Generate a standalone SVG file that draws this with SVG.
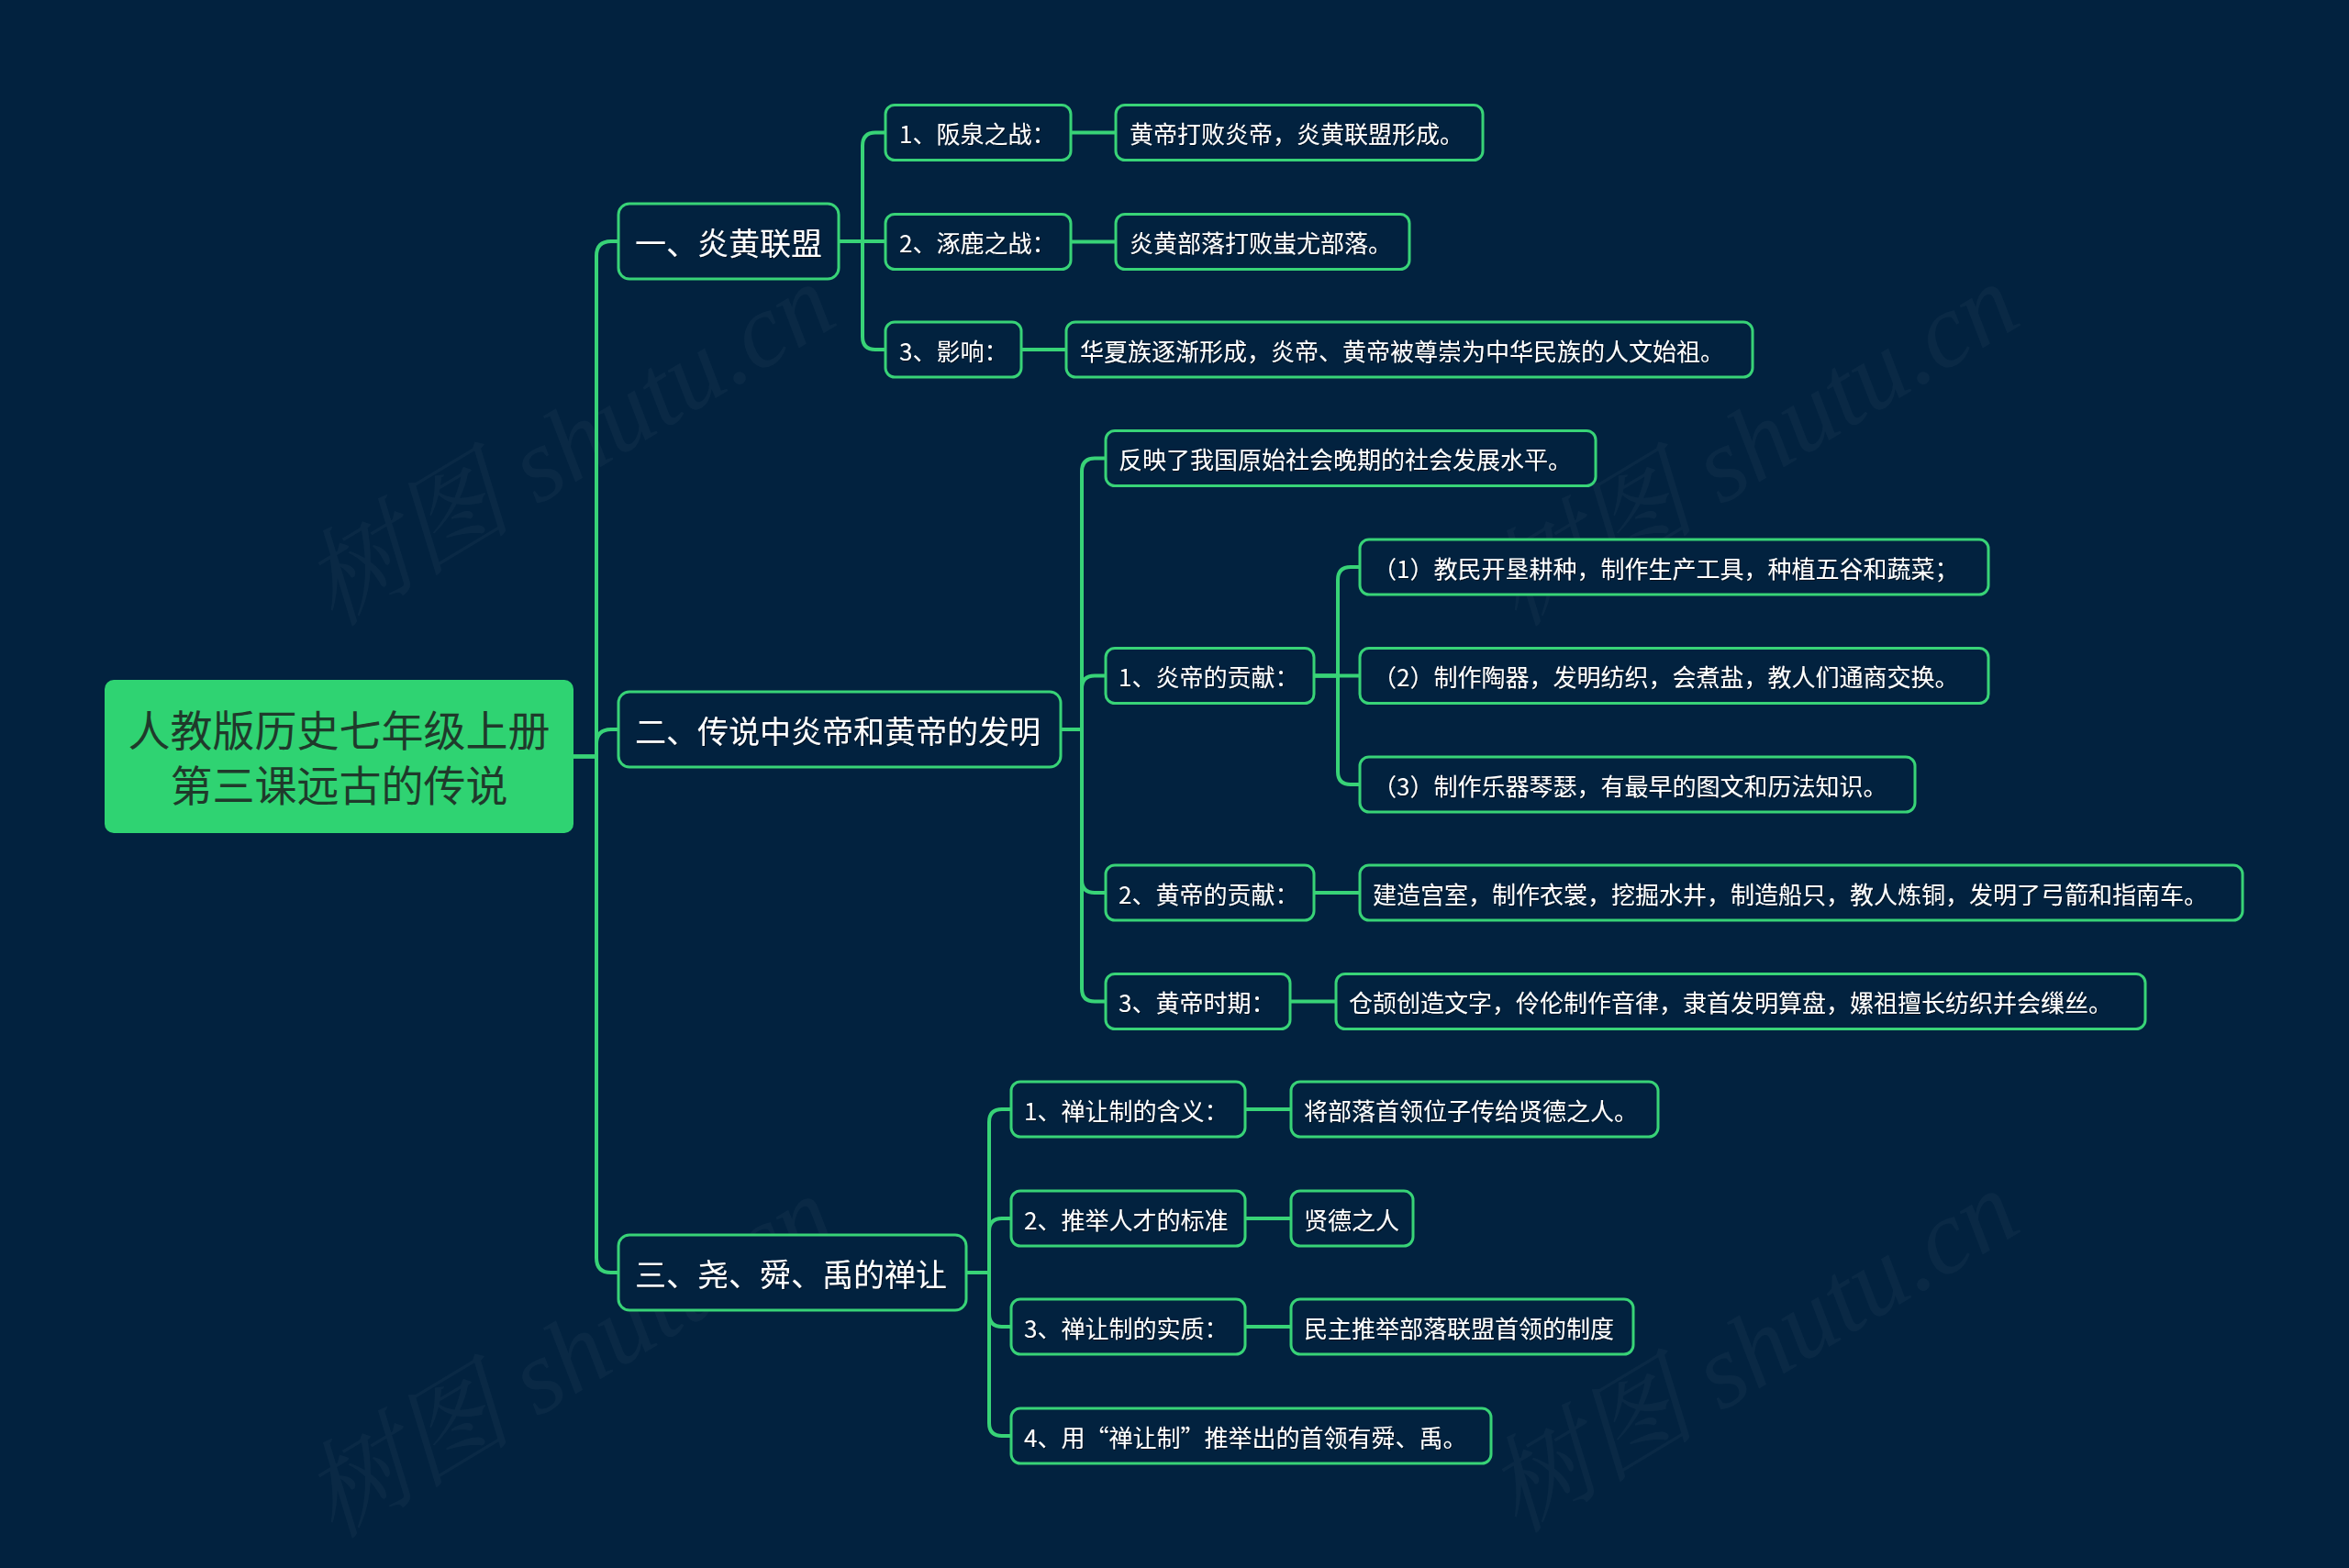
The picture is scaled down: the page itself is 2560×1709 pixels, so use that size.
<svg xmlns="http://www.w3.org/2000/svg" width="2560" height="1709" viewBox="0 0 2560 1709">
<defs>
<style>
.bg{fill:#02223f}
.box{fill:#02223f;stroke:#38d377;stroke-width:3}
.root{fill:#2fd372}
.t{font-family:"Microsoft YaHei","Noto Sans CJK SC","Noto Sans",sans-serif;fill:#ffffff;dominant-baseline:central}
.t26{font-size:26px}
.t34{font-size:34px}
.rt{font-family:"Microsoft YaHei","Noto Sans CJK SC","Noto Sans",sans-serif;font-size:46px;fill:#1f3a2b;text-anchor:middle;dominant-baseline:central}
.ln{fill:none;stroke:#38d377;stroke-width:4;stroke-linecap:round}
.wm{font-family:"Liberation Serif","Noto Serif CJK SC","Noto Sans CJK SC",serif;font-size:115px;font-style:italic;fill:#ffffff;fill-opacity:0.035}
</style>
<filter id="sh" x="-5%" y="-20%" width="110%" height="140%"><feDropShadow dx="1" dy="1" stdDeviation="0.6" flood-color="#000000" flood-opacity="0.6"/></filter>
</defs>
<rect class="bg" x="0" y="0" width="2560" height="1709"/>

<g id="watermarks">
<text class="wm" transform="translate(640,518) rotate(-31)" text-anchor="middle">树图 shutu.cn</text>
<text class="wm" transform="translate(1930,518) rotate(-31)" text-anchor="middle">树图 shutu.cn</text>
<text class="wm" transform="translate(640,1512) rotate(-31)" text-anchor="middle">树图 shutu.cn</text>
<text class="wm" transform="translate(1930,1506) rotate(-31)" text-anchor="middle">树图 shutu.cn</text>
</g>

<g id="connectors">
<path class="ln" d="M625 824.5 H650 V279 Q650 263 666 263 H674"/>
<path class="ln" d="M625 824.5 H650 V811 Q650 795 666 795 H674"/>
<path class="ln" d="M625 824.5 H650 V1371 Q650 1387 666 1387 H674"/>
<path class="ln" d="M914 263 H940 V159 Q940 144.5 954 144.5 H965"/>
<path class="ln" d="M914 263 H965"/>
<path class="ln" d="M914 263 H940 V367 Q940 381 954 381 H965"/>
<path class="ln" d="M1167 144.5 H1216"/>
<path class="ln" d="M1167 263.5 H1216"/>
<path class="ln" d="M1113 381 H1162"/>
<path class="ln" d="M1156 795 H1179 V514 Q1179 499.5 1193 499.5 H1205"/>
<path class="ln" d="M1156 795 H1179 V750.5 Q1179 736.5 1193 736.5 H1205"/>
<path class="ln" d="M1156 795 H1179 V959 Q1179 973 1193 973 H1205"/>
<path class="ln" d="M1156 795 H1179 V1077.5 Q1179 1091.5 1193 1091.5 H1205"/>
<path class="ln" d="M1432 736.5 H1458 V632 Q1458 618 1472 618 H1482"/>
<path class="ln" d="M1432 736.5 H1482"/>
<path class="ln" d="M1432 736.5 H1458 V841 Q1458 855 1472 855 H1482"/>
<path class="ln" d="M1432 973 H1482"/>
<path class="ln" d="M1406 1091.5 H1456"/>
<path class="ln" d="M1053 1387 H1078 V1223 Q1078 1209 1092 1209 H1102"/>
<path class="ln" d="M1053 1387 H1078 V1342 Q1078 1328 1092 1328 H1102"/>
<path class="ln" d="M1053 1387 H1078 V1432 Q1078 1446 1092 1446 H1102"/>
<path class="ln" d="M1053 1387 H1078 V1551 Q1078 1565 1092 1565 H1102"/>
<path class="ln" d="M1357 1209 H1407"/>
<path class="ln" d="M1357 1328 H1407"/>
<path class="ln" d="M1357 1446 H1407"/>
</g>

<g id="root">
<rect class="root" x="114" y="741" width="511" height="167" rx="10"/>
<text class="rt" x="369.5" y="793">人教版历史七年级上册</text>
<text class="rt" x="369.5" y="853">第三课远古的传说</text>
</g>

<g id="n1">
<rect class="box" x="674" y="222" width="240" height="82" rx="12"/>
<text class="t t34" x="692" y="263" filter="url(#sh)">一、炎黄联盟</text>
</g>
<g id="n2">
<rect class="box" x="674" y="754" width="482" height="82" rx="12"/>
<text class="t t34" x="692" y="795" filter="url(#sh)">二、传说中炎帝和黄帝的发明</text>
</g>
<g id="n3">
<rect class="box" x="674" y="1346" width="379" height="82" rx="12"/>
<text class="t t34" x="692" y="1387" filter="url(#sh)">三、尧、舜、禹的禅让</text>
</g>

<g id="n1-1">
<rect class="box" x="965" y="114.5" width="202" height="60" rx="10"/>
<text class="t t26" x="980" y="144.5" filter="url(#sh)">1、阪泉之战：</text>
</g>
<g id="n1-1-1">
<rect class="box" x="1216" y="114.5" width="400" height="60" rx="10"/>
<text class="t t26" x="1231" y="144.5" filter="url(#sh)">黄帝打败炎帝，炎黄联盟形成。</text>
</g>
<g id="n1-2">
<rect class="box" x="965" y="233.5" width="202" height="60" rx="10"/>
<text class="t t26" x="980" y="263.5" filter="url(#sh)">2、涿鹿之战：</text>
</g>
<g id="n1-2-1">
<rect class="box" x="1216" y="233.5" width="320" height="60" rx="10"/>
<text class="t t26" x="1231" y="263.5" filter="url(#sh)">炎黄部落打败蚩尤部落。</text>
</g>
<g id="n1-3">
<rect class="box" x="965" y="351" width="148" height="60" rx="10"/>
<text class="t t26" x="980" y="381" filter="url(#sh)">3、影响：</text>
</g>
<g id="n1-3-1">
<rect class="box" x="1162" y="351" width="748" height="60" rx="10"/>
<text class="t t26" x="1177" y="381" filter="url(#sh)">华夏族逐渐形成，炎帝、黄帝被尊崇为中华民族的人文始祖。</text>
</g>

<g id="n2-0">
<rect class="box" x="1205" y="469.5" width="534" height="60" rx="10"/>
<text class="t t26" x="1219" y="499.5" filter="url(#sh)">反映了我国原始社会晚期的社会发展水平。</text>
</g>
<g id="n2-1">
<rect class="box" x="1205" y="706.5" width="227" height="60" rx="10"/>
<text class="t t26" x="1219" y="736.5" filter="url(#sh)">1、炎帝的贡献：</text>
</g>
<g id="n2-1-1">
<rect class="box" x="1482" y="588" width="685" height="60" rx="10"/>
<text class="t t26" x="1496" y="618" filter="url(#sh)">（1）教民开垦耕种，制作生产工具，种植五谷和蔬菜；</text>
</g>
<g id="n2-1-2">
<rect class="box" x="1482" y="706.5" width="685" height="60" rx="10"/>
<text class="t t26" x="1496" y="736.5" filter="url(#sh)">（2）制作陶器，发明纺织，会煮盐，教人们通商交换。</text>
</g>
<g id="n2-1-3">
<rect class="box" x="1482" y="825" width="605" height="60" rx="10"/>
<text class="t t26" x="1496" y="855" filter="url(#sh)">（3）制作乐器琴瑟，有最早的图文和历法知识。</text>
</g>
<g id="n2-2">
<rect class="box" x="1205" y="943" width="227" height="60" rx="10"/>
<text class="t t26" x="1219" y="973" filter="url(#sh)">2、黄帝的贡献：</text>
</g>
<g id="n2-2-1">
<rect class="box" x="1482" y="943" width="962" height="60" rx="10"/>
<text class="t t26" x="1496" y="973" filter="url(#sh)">建造宫室，制作衣裳，挖掘水井，制造船只，教人炼铜，发明了弓箭和指南车。</text>
</g>
<g id="n2-3">
<rect class="box" x="1205" y="1061.5" width="201" height="60" rx="10"/>
<text class="t t26" x="1219" y="1091.5" filter="url(#sh)">3、黄帝时期：</text>
</g>
<g id="n2-3-1">
<rect class="box" x="1456" y="1061.5" width="882" height="60" rx="10"/>
<text class="t t26" x="1470" y="1091.5" filter="url(#sh)">仓颉创造文字，伶伦制作音律，隶首发明算盘，嫘祖擅长纺织并会缫丝。</text>
</g>

<g id="n3-1">
<rect class="box" x="1102" y="1179" width="255" height="60" rx="10"/>
<text class="t t26" x="1116" y="1209" filter="url(#sh)">1、禅让制的含义：</text>
</g>
<g id="n3-1-1">
<rect class="box" x="1407" y="1179" width="400" height="60" rx="10"/>
<text class="t t26" x="1421" y="1209" filter="url(#sh)">将部落首领位子传给贤德之人。</text>
</g>
<g id="n3-2">
<rect class="box" x="1102" y="1298" width="255" height="60" rx="10"/>
<text class="t t26" x="1116" y="1328" filter="url(#sh)">2、推举人才的标准</text>
</g>
<g id="n3-2-1">
<rect class="box" x="1407" y="1298" width="133" height="60" rx="10"/>
<text class="t t26" x="1421" y="1328" filter="url(#sh)">贤德之人</text>
</g>
<g id="n3-3">
<rect class="box" x="1102" y="1416" width="255" height="60" rx="10"/>
<text class="t t26" x="1116" y="1446" filter="url(#sh)">3、禅让制的实质：</text>
</g>
<g id="n3-3-1">
<rect class="box" x="1407" y="1416" width="373" height="60" rx="10"/>
<text class="t t26" x="1421" y="1446" filter="url(#sh)">民主推举部落联盟首领的制度</text>
</g>
<g id="n3-4">
<rect class="box" x="1102" y="1535" width="523" height="60" rx="10"/>
<text class="t t26" x="1116" y="1565" filter="url(#sh)">4、用“禅让制”推举出的首领有舜、禹。</text>
</g>
</svg>
